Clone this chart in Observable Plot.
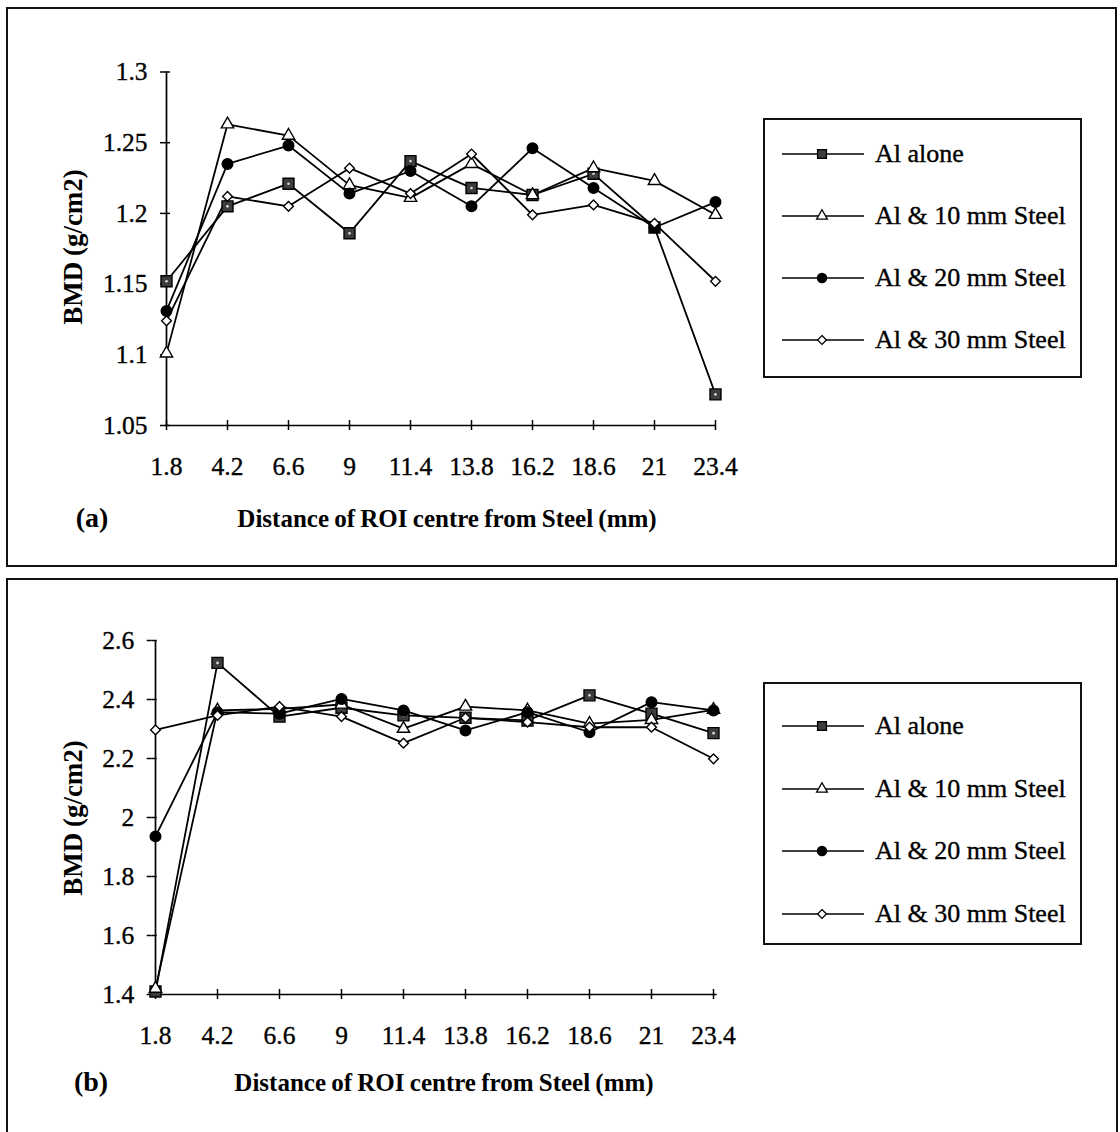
<!DOCTYPE html>
<html><head><meta charset="utf-8">
<script src="https://cdn.jsdelivr.net/npm/d3@7"></script>
<script src="https://cdn.jsdelivr.net/npm/@observablehq/plot@0.6"></script>
<style>
html,body{margin:0;padding:0;background:#fff;overflow:hidden;}
#page{position:relative;width:1120px;height:1132px;font-family:"Liberation Serif","Times New Roman",serif;color:#000;overflow:hidden;}
.frame{position:absolute;border:2.5px solid #111;box-sizing:border-box;}
.abs{position:absolute;white-space:nowrap;line-height:1;}
.ytitle{font-weight:bold;font-size:27px;word-spacing:-1px;transform:translate(-50%,-50%) rotate(-90deg);}
.xtitle{font-weight:bold;font-size:25px;word-spacing:-1px;transform:translate(-50%,-50%);}
.tag{font-weight:bold;font-size:28px;transform:translate(-50%,-50%);}
.legend{position:absolute;border:2px solid #111;box-sizing:border-box;background:#fff;}
.legrow{position:absolute;left:15px;display:flex;align-items:center;font-size:26px;transform:translateY(-50%);white-space:nowrap;-webkit-text-stroke:0.35px #000;}
.plotwrap{position:absolute;left:0;}
.plotwrap svg text{stroke:#000;stroke-width:0.35px;}
</style></head><body><div id="page"></div>
<script>
// ---- data ----
const xLabels = ["1.8","4.2","6.6","9","11.4","13.8","16.2","18.6","21","23.4"];
const seriesNames = ["Al alone","Al & 10 mm Steel","Al & 20 mm Steel","Al & 30 mm Steel"];

// panel (a)
const alAloneA = [1.152, 1.205, 1.221, 1.186, 1.237, 1.218, 1.213, 1.228, 1.190, 1.072];
const al10A    = [1.101, 1.263, 1.255, 1.220, 1.211, 1.235, 1.213, 1.232, 1.223, 1.199];
const al20A    = [1.131, 1.235, 1.248, 1.214, 1.230, 1.205, 1.246, 1.218, 1.190, 1.208];
const al30A    = [1.124, 1.212, 1.205, 1.232, 1.214, 1.242, 1.199, 1.206, 1.193, 1.152];
const yTicksA  = [1.05, 1.1, 1.15, 1.2, 1.25, 1.3];

// panel (b)
const alAloneB = [1.410, 2.524, 2.342, 2.372, 2.346, 2.338, 2.329, 2.414, 2.352, 2.286];
const al10B    = [1.420, 2.363, 2.368, 2.383, 2.301, 2.376, 2.363, 2.318, 2.331, 2.365];
const al20B    = [1.936, 2.357, 2.352, 2.402, 2.363, 2.295, 2.357, 2.289, 2.391, 2.363];
const al30B    = [2.297, 2.346, 2.376, 2.342, 2.252, 2.338, 2.323, 2.306, 2.306, 2.199];
const yTicksB  = [1.4, 1.6, 1.8, 2, 2.2, 2.4, 2.6];

const yTitle = "BMD (g/cm2)";
const xTitle = "Distance of ROI centre from Steel (mm)";

// ---- styles ----
const symbols = ["square", "triangle", "circle", "diamond2"];
const symFill = ["#3c3c3c", "#fff", "#000", "#fff"];
const symR    = [6.2, 4.6, 5.3, 4.4];
const FONT = '"Liberation Serif","Times New Roman",serif';

const page = document.getElementById("page");

function makePanel(cfg) {
  const rows = [];
  cfg.series.forEach((vals, i) => vals.forEach((v, j) => rows.push({x: xLabels[j], y: v, s: seriesNames[i], i})));
  const marks = [
    Plot.ruleY([cfg.yTicks[0]], {stroke: "#000", strokeWidth: 1.7}),
    Plot.ruleX([xLabels[0]], {stroke: "#000", strokeWidth: 1.7}),
    Plot.axisY({ticks: cfg.yTicks, tickSize: 5, tickPadding: 13, tickFormat: d => String(d), label: null, strokeWidth: 1.5, fontSize: 25.5, fill: "#000"}),
    Plot.axisY({ticks: cfg.yTicks, tickSize: 5, dx: 5, tickFormat: () => "", label: null, strokeWidth: 1.5}),
    Plot.axisX({tickSize: 5, tickPadding: 26, label: null, strokeWidth: 1.5, fontSize: 25.5, fill: "#000"}),
    Plot.axisX({tickSize: 5, dy: -5, tickFormat: () => "", label: null, strokeWidth: 1.5}),
    Plot.line(rows, {x: "x", y: "y", z: "s", stroke: "#000", strokeWidth: 1.8})
  ];
  seriesNames.forEach((s, i) => {
    marks.push(Plot.dot(rows.filter(r => r.i === i), {x: "x", y: "y", symbol: symbols[i], r: symR[i], fill: symFill[i], stroke: "#000", strokeWidth: 1.4}));
    if (i === 0) marks.push(Plot.dot(rows.filter(r => r.i === 0), {x: "x", y: "y", r: 1.3, fill: "#ddd", stroke: "none"}));
  });
  const chart = Plot.plot({
    width: 760,
    height: 560,
    marginLeft: cfg.mL,
    marginRight: cfg.mR,
    marginTop: cfg.mT,
    marginBottom: cfg.mB,
    x: {type: "point", domain: xLabels, padding: 0, axis: null},
    y: {domain: [cfg.yTicks[0], cfg.yTicks[cfg.yTicks.length - 1]], axis: null},
    style: {fontFamily: FONT, fontSize: "25.5px", color: "#000", background: "transparent", overflow: "visible"},
    marks
  });
  const wrap = document.createElement("div");
  wrap.className = "plotwrap";
  wrap.style.top = cfg.top + "px";
  wrap.appendChild(chart);
  page.appendChild(wrap);
}

function addText(cls, txt, x, y) {
  const d = document.createElement("div");
  d.className = "abs " + cls;
  d.style.left = x + "px";
  d.style.top = y + "px";
  d.textContent = txt;
  page.appendChild(d);
}

function addFrame(l, t, w, h) {
  const f = document.createElement("div");
  f.className = "frame";
  Object.assign(f.style, {left: l + "px", top: t + "px", width: w + "px", height: h + "px"});
  page.appendChild(f);
}

function addLegend(l, t, w, h, firstRow, step) {
  const box = document.createElement("div");
  box.className = "legend";
  Object.assign(box.style, {left: l + "px", top: t + "px", width: w + "px", height: h + "px"});
  seriesNames.forEach((s, i) => {
    const row = document.createElement("div");
    row.className = "legrow";
    row.style.top = (firstRow + i * step) + "px";
    const svg = d3.create("svg").attr("width", 95).attr("height", 20).style("display", "block");
    svg.append("line").attr("x1", 2).attr("x2", 84).attr("y1", 10).attr("y2", 10).attr("stroke", "#000").attr("stroke-width", 1.5);
    const types = [d3.symbolSquare, d3.symbolTriangle, d3.symbolCircle, d3.symbolDiamond2];
    const rr = [5, 4, 4.6, 4];
    svg.append("path").attr("transform", "translate(42,10)")
      .attr("d", d3.symbol(types[i], Math.PI * rr[i] * rr[i])())
      .attr("fill", symFill[i]).attr("stroke", "#000").attr("stroke-width", 1.3);
    row.appendChild(svg.node());
    const sp = document.createElement("span");
    sp.textContent = s;
    row.appendChild(sp);
    box.appendChild(row);
  });
  page.appendChild(box);
}

// frames
addFrame(6, 7, 1111, 560);
addFrame(6, 578, 1112, 570);

// panel (a)
makePanel({series: [alAloneA, al10A, al20A, al30A], yTicks: yTicksA, top: 0, mL: 165, mR: 44, mT: 71.5, mB: 135});
addText("ytitle", yTitle, 73, 247);
addText("xtitle", xTitle, 447, 518);
addText("tag", "(a)", 92, 518);
addLegend(763, 118, 319, 260, 34, 62);

// panel (b)
makePanel({series: [alAloneB, al10B, al20B, al30B], yTicks: yTicksB, top: 570, mL: 151.7, mR: 43.3, mT: 70, mB: 136});
addText("ytitle", yTitle, 73, 818);
addText("xtitle", xTitle, 444, 1082);
addText("tag", "(b)", 91, 1082);
addLegend(763, 682, 319, 263, 42, 62.5);
</script></body></html>
